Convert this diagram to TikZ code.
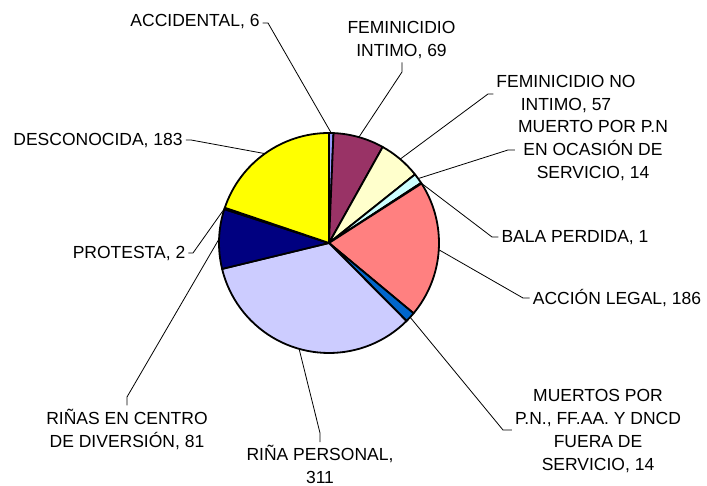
\documentclass[tikz,border=0pt]{standalone}
\usepackage{fontspec}
\setmainfont{Liberation Sans}

\definecolor{accidental}{HTML}{9999FF}
\definecolor{femintimo}{HTML}{993366}
\definecolor{femnointimo}{HTML}{FFFFCC}
\definecolor{ocasion}{HTML}{CCFFFF}
\definecolor{bala}{HTML}{660066}
\definecolor{accion}{HTML}{FF8080}
\definecolor{fuera}{HTML}{0066CC}
\definecolor{rinapers}{HTML}{CCCCFF}
\definecolor{rinacentro}{HTML}{000080}
\definecolor{protesta}{HTML}{FF00FF}
\definecolor{desconocida}{HTML}{FFFF00}

\tikzset{
  slice/.style={draw=black, line width=1.8pt, line join=round},
  leader/.style={draw=black, line width=0.8pt},
  lbl/.style={align=center, inner sep=3pt, font=\fontsize{17.5}{23}\selectfont},
}

\begin{document}
\begin{tikzpicture}[x=1pt, y=1pt]
    \useasboundingbox[fill=white] (0,0) rectangle (707,486);
    \coordinate (ctr) at (329,243);

    % slices, clockwise from the top (total 924)
    \foreach \nm/\a/\b/\col in {acc/0/6/accidental, fi/6/75/femintimo,
        fn/75/132/femnointimo, mpn/132/146/ocasion, bala/146/147/bala,
        accion/147/333/accion, muertos/333/347/fuera, rp/347/658/rinapers,
        rc/658/739/rinacentro, prot/739/741/protesta, desc/741/924/desconocida}
    {
        \filldraw[slice, fill=\col] (ctr) -- ++({90-\a/924*360}:110)
            arc[start angle={90-\a/924*360}, end angle={90-\b/924*360}, radius=110] -- cycle;
        \path (ctr) ++({90-(\a/924+\b/924)*180}:110) coordinate (p\nm);
    }

    % labels
    \node[lbl] (lacc) at (195,464) {ACCIDENTAL, 6};
    \node[lbl] (lfi) at (401.5,445.5) {FEMINICIDIO\\INTIMO, 69};
    \node[lbl] (lfn) at (566,391.5) {FEMINICIDIO NO\\INTIMO, 57};
    \node[lbl] (lmpn) at (593,335) {MUERTO POR P.N\\EN OCASIÓN DE\\SERVICIO, 14};
    \node[lbl] (lbala) at (575,248) {BALA PERDIDA, 1};
    \node[lbl] (laccion) at (617,187.5) {ACCIÓN LEGAL, 186};
    \node[lbl] (lmuertos) at (598,55) {MUERTOS POR\\P.N., FF.AA. Y DNCD\\FUERA DE\\SERVICIO, 14};
    \node[lbl] (lrp) at (320,21.5) {RIÑA PERSONAL,\\311};
    \node[lbl] (lrc) at (127,57) {RIÑAS EN CENTRO\\DE DIVERSIÓN, 81};
    \node[lbl] (lprot) at (129,232) {PROTESTA, 2};
    \node[lbl] (ldesc) at (98,345) {DESCONOCIDA, 183};

    % leader lines
    \coordinate (kacc) at (268,463);
    \coordinate (kfi) at (402,414);
    \coordinate (kfn) at (488,392);
    \coordinate (kmpn) at (508,336);
    \coordinate (kbala) at (492,249);
    \coordinate (kaccion) at (523,188);
    \coordinate (kmuertos) at (503,56);
    \coordinate (krp) at (320,53);
    \coordinate (krc) at (127,89);
    \coordinate (kprot) at (193,233);
    \coordinate (kdesc) at (191,346);

    \draw[leader] (pacc) -- (kacc) -- (kacc -| lacc.east);
    \draw[leader] (pfi) -- (kfi) -- (kfi |- lfi.south);
    \draw[leader] (pfn) -- (kfn) -- (kfn -| lfn.west);
    \draw[leader] (pmpn) -- (kmpn) -- (kmpn -| lmpn.west);
    \draw[leader] (pbala) -- (kbala) -- (kbala -| lbala.west);
    \draw[leader] (paccion) -- (kaccion) -- (kaccion -| laccion.west);
    \draw[leader] (pmuertos) -- (kmuertos) -- (kmuertos -| lmuertos.west);
    \draw[leader] (prp) -- (krp) -- (krp |- lrp.north);
    \draw[leader] (prc) -- (krc) -- (krc |- lrc.north);
    \draw[leader] (pprot) -- (kprot) -- (kprot -| lprot.east);
    \draw[leader] (pdesc) -- (kdesc) -- (kdesc -| ldesc.east);
\end{tikzpicture}
\end{document}
